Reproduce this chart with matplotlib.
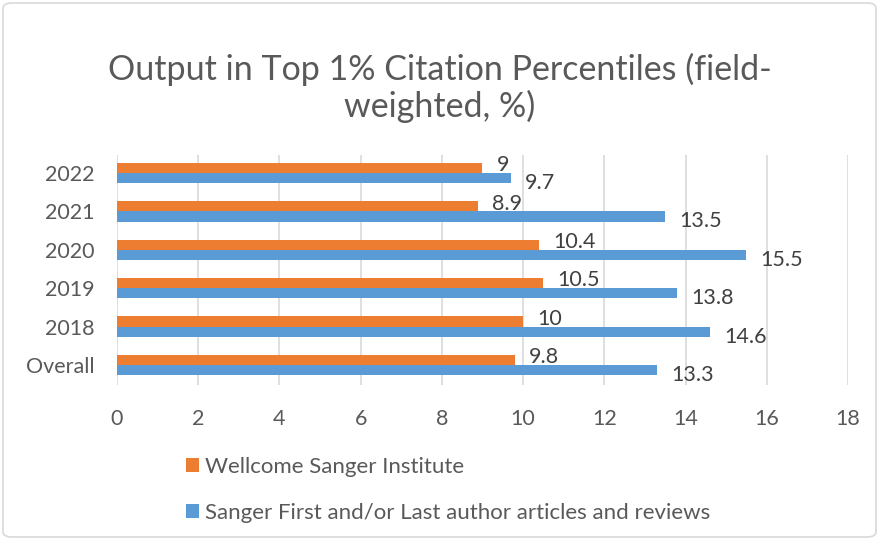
import numpy as np
import matplotlib
matplotlib.use('agg')
import matplotlib.pyplot as plt
from matplotlib.patches import FancyBboxPatch

categories = ['Overall', '2018', '2019', '2020', '2021', '2022']
wellcome = [9.8, 10, 10.5, 10.4, 8.9, 9]
first_last = [13.3, 14.6, 13.8, 15.5, 13.5, 9.7]
series_names = ['Wellcome Sanger Institute',
                'Sanger First and/or Last author articles and reviews']
xticks = [0, 2, 4, 6, 8, 10, 12, 14, 16, 18]

plt.rcParams['font.family'] = ['Lato', 'DejaVu Sans']
txt = '#595959'
orange = '#ED7D31'
blue = '#5B9BD5'

fig = plt.figure(figsize=(8.79, 5.40), dpi=100)
W, H = 879, 540
ax = fig.add_axes([117 / W, 1 - 385 / H, (848 - 117) / W, (385 - 155) / H])

y = np.arange(len(categories))
h = 0.265
b1 = ax.barh(y + h / 2, wellcome, height=h, color=orange, zorder=3)
b2 = ax.barh(y - h / 2, first_last, height=h, color=blue, zorder=3)

# data labels: orange ones sit a bit high, blue ones a bit low (as in Excel)
for yi, v in zip(y, wellcome):
    ax.annotate(f'{v:g}', (v, yi + h / 2), xytext=(10, 2), textcoords='offset points',
                ha='left', va='center', fontsize=15.5, color='#404040')
for yi, v in zip(y, first_last):
    ax.annotate(f'{v:g}', (v, yi - h / 2), xytext=(10, -3.5), textcoords='offset points',
                ha='left', va='center', fontsize=15.5, color='#404040')

ax.set_xlim(0, 18)
ax.set_ylim(-0.52, 5.47)
ax.set_xticks(xticks)
ax.set_yticks(y)
ax.set_yticklabels(categories)
ax.tick_params(axis='both', length=0, labelsize=15.5, colors=txt)
ax.tick_params(axis='x', pad=17)
ax.tick_params(axis='y', pad=16)
ax.grid(axis='x', color='#D9D9D9', linewidth=1.2, zorder=0)
for s in ax.spines.values():
    s.set_visible(False)

fig.text(440 / W, 1 - 88 / H, 'Output in Top 1% Citation Percentiles (field-\nweighted, %)',
         ha='center', va='center', fontsize=24.5, color=txt, linespacing=1.12)

leg = fig.legend([b1, b2], series_names, loc='upper left',
                 bbox_to_anchor=(166 / W, 1 - 437 / H), frameon=False, fontsize=16,
                 handlelength=0.6, handleheight=0.6, handletextpad=0.25,
                 labelspacing=1.15, labelcolor=txt)

fig.patches.append(FancyBboxPatch((3 / W, 3 / H), 1 - 6 / W, 1 - 6 / H,
                                  boxstyle='round,pad=0,rounding_size=0.01',
                                  transform=fig.transFigure, fill=False,
                                  edgecolor='#D9D9D9', linewidth=1.2))

fig.savefig('out.png', dpi=100)
